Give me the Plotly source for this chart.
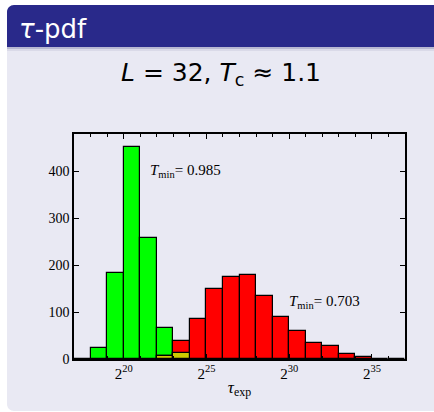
import plotly.graph_objects as go

# log2(tau_exp) bin left edges
bin_left = [17, 18, 19, 20, 21, 22, 23, 24, 25, 26, 27, 28, 29, 30, 31, 32, 33, 34, 35, 36]
green_counts = [1, 24, 184, 452, 257, 67, 13, 0, 0, 0, 0, 0, 0, 0, 0, 0, 0, 0, 0, 0]
red_counts = [0, 0, 0, 0, 0, 6, 39, 86, 150, 175, 179, 135, 89, 60, 34, 28, 10, 4, 1, 1]
xtick_vals = [20, 25, 30, 35]
xtick_text = ["2<sup>20</sup>", "2<sup>25</sup>", "2<sup>30</sup>", "2<sup>35</sup>"]
ytick_vals = [0, 100, 200, 300, 400]
labels = ["<i>T</i><sub>min</sub>= 0.985", "<i>T</i><sub>min</sub>= 0.703"]
label_pos = [(21.5, 400), (29.9, 122)]

W, H = 434, 412
L, R, T, B = 74, 29, 134, 53
PW, PH = W - L - R, H - T - B

def px(x):
    return (x - L) / PW

def py(y):
    return (H - B - y) / PH

centers = [b + 0.5 for b in bin_left]
overlap = [min(g, r) for g, r in zip(green_counts, red_counts)]

def nz(v):
    return [c if c > 0 else None for c in v]

line = dict(color="black", width=1.2)
fig = go.Figure()
fig.add_trace(go.Bar(x=centers, y=nz(green_counts), width=1, marker=dict(color="#00FF00", line=line)))
fig.add_trace(go.Bar(x=centers, y=nz(red_counts), width=1, marker=dict(color="#FF0000", line=line)))
fig.add_trace(go.Bar(x=centers, y=nz(overlap), width=1, marker=dict(color="#CCCC00", line=line)))

for (lx, ly), t in zip(label_pos, labels):
    fig.add_annotation(x=lx, y=ly, xref="x", yref="y", text=t, showarrow=False,
                       xanchor="left", yanchor="middle",
                       font=dict(family="Liberation Serif", size=15, color="black"))

def rpath(x0, y0, x1, y1, r, tl=True, bl=False):
    k = 0.45
    s = f"M{px(x1)},{py(y0)} L{px(x0 + (r if tl else 0))},{py(y0)} "
    if tl:
        s += f"C{px(x0 + r*k)},{py(y0)} {px(x0)},{py(y0 + r*k)} {px(x0)},{py(y0 + r)} "
    s += f"L{px(x0)},{py(y1 - (r if bl else 0))} "
    if bl:
        s += f"C{px(x0)},{py(y1 - r*k)} {px(x0 + r*k)},{py(y1)} {px(x0 + r)},{py(y1)} "
    s += f"L{px(x1)},{py(y1)} Z"
    return s

shapes = [
    dict(type="path", xref="paper", yref="paper", path=rpath(7, 5, 434, 411, 7, tl=True, bl=True),
         fillcolor="#E9E9F3", line=dict(width=0), layer="below"),
    dict(type="path", xref="paper", yref="paper", path=rpath(7, 5, 434, 47, 7, tl=True, bl=False),
         fillcolor="#29298A", line=dict(width=0), layer="below"),
    dict(type="rect", xref="paper", yref="paper", x0=px(7), x1=px(434), y0=py(47), y1=py(49),
         fillcolor="#B8B8D2", line=dict(width=0), layer="below"),
    dict(type="rect", xref="paper", yref="paper", x0=px(7), x1=px(434), y0=py(49), y1=py(51),
         fillcolor="#DADAE8", line=dict(width=0), layer="below"),
]

fig.add_annotation(x=px(17), y=py(29), xref="paper", yref="paper", text="<i>τ</i>-pdf",
                   showarrow=False, xanchor="left", yanchor="middle",
                   font=dict(family="DejaVu Sans", size=26, color="white"))
fig.add_annotation(x=px(221), y=py(74), xref="paper", yref="paper",
                   text="<i>L</i> = 32, <i>T</i><sub>c</sub> ≈ 1.1",
                   showarrow=False, xanchor="center", yanchor="middle",
                   font=dict(family="DejaVu Sans", size=25, color="black"))

axis_common = dict(showline=True, linecolor="black", linewidth=1.5, mirror="ticks",
                   ticks="inside", tickcolor="black", ticklen=5, showgrid=False, zeroline=False,
                   tickfont=dict(family="Liberation Serif", size=14, color="black"))

fig.update_layout(
    width=W, height=H, margin=dict(l=L, r=R, t=T, b=B, pad=0),
    paper_bgcolor="white", plot_bgcolor="rgba(0,0,0,0)",
    barmode="overlay", bargap=0, showlegend=False, shapes=shapes,
    xaxis=dict(range=[17, 37], tickvals=xtick_vals, ticktext=xtick_text,
               minor=dict(dtick=1, tick0=0, ticks="inside", ticklen=3, tickcolor="black"),
               title=dict(text="<i>τ</i><sub>exp</sub>", standoff=0,
                          font=dict(family="Liberation Serif", size=17, color="black")),
               **{**axis_common, "tickfont": dict(family="Liberation Serif", size=15, color="black")}),
    yaxis=dict(range=[0, 479], tickvals=ytick_vals, **axis_common),
)

fig.write_html("out.html")
